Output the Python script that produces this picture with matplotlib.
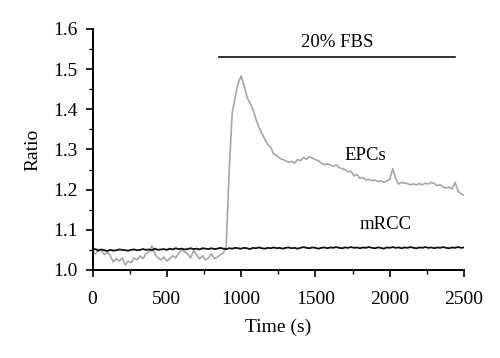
import matplotlib
matplotlib.use("Agg")
import matplotlib.pyplot as plt
from matplotlib.ticker import MultipleLocator, FormatStrFormatter

plt.rcParams.update({
    "font.family": "serif",
    "font.serif": ["Liberation Serif", "DejaVu Serif"],
    "font.size": 14,
})

GREY = "#a6a6a6"
INK = "#111111"

# sample times (s)
time_s = [
    0, 20, 40, 60, 80, 100, 120, 140, 160, 180,
    200, 220, 240, 260, 280, 300, 320, 340, 360, 380,
    400, 420, 440, 460, 480, 500, 520, 540, 560, 580,
    600, 620, 640, 660, 680, 700, 720, 740, 760, 780,
    800, 820, 840, 860, 880, 900, 920, 940, 960, 980,
    1000, 1020, 1040, 1060, 1080, 1100, 1120, 1140, 1160, 1180,
    1200, 1220, 1240, 1260, 1280, 1300, 1320, 1340, 1360, 1380,
    1400, 1420, 1440, 1460, 1480, 1500, 1520, 1540, 1560, 1580,
    1600, 1620, 1640, 1660, 1680, 1700, 1720, 1740, 1760, 1780,
    1800, 1820, 1840, 1860, 1880, 1900, 1920, 1940, 1960, 1980,
    2000, 2020, 2040, 2060, 2080, 2100, 2120, 2140, 2160, 2180,
    2200, 2220, 2240, 2260, 2280, 2300, 2320, 2340, 2360, 2380,
    2400, 2420, 2440, 2460, 2480, 2500,
]

epcs = [
    1.045, 1.040, 1.052, 1.048, 1.038, 1.044, 1.035, 1.020, 1.028, 1.022,
    1.030, 1.012, 1.022, 1.018, 1.030, 1.025, 1.035, 1.028, 1.040, 1.045,
    1.060, 1.040, 1.030, 1.025, 1.032, 1.022, 1.028, 1.035, 1.030, 1.042,
    1.050, 1.045, 1.040, 1.030, 1.048, 1.038, 1.028, 1.035, 1.025, 1.030,
    1.040, 1.028, 1.032, 1.038, 1.042, 1.060, 1.250, 1.390, 1.430, 1.465,
    1.483, 1.460, 1.430, 1.415, 1.400, 1.375, 1.355, 1.340, 1.325, 1.312,
    1.305, 1.288, 1.285, 1.278, 1.275, 1.272, 1.268, 1.270, 1.266, 1.275,
    1.272, 1.280, 1.276, 1.282, 1.278, 1.275, 1.272, 1.266, 1.262, 1.264,
    1.262, 1.258, 1.262, 1.255, 1.252, 1.250, 1.244, 1.246, 1.234, 1.238,
    1.228, 1.230, 1.224, 1.226, 1.222, 1.224, 1.220, 1.222, 1.218, 1.222,
    1.225, 1.252, 1.228, 1.214, 1.218, 1.216, 1.215, 1.212, 1.214, 1.212,
    1.215, 1.212, 1.216, 1.214, 1.218, 1.215, 1.210, 1.212, 1.206, 1.204,
    1.206, 1.202, 1.218, 1.196, 1.190, 1.186,
]

mrcc = [
    1.050, 1.052, 1.048, 1.051, 1.049, 1.047, 1.050, 1.048, 1.049, 1.051,
    1.050, 1.049, 1.048, 1.050, 1.051, 1.049, 1.050, 1.052, 1.050, 1.051,
    1.049, 1.053, 1.050, 1.051, 1.052, 1.050, 1.053, 1.051, 1.054, 1.052,
    1.053, 1.051, 1.052, 1.054, 1.052, 1.053, 1.051, 1.054, 1.053, 1.052,
    1.054, 1.052, 1.053, 1.055, 1.053, 1.052, 1.054, 1.053, 1.055, 1.054,
    1.053, 1.055, 1.054, 1.052, 1.055, 1.054, 1.056, 1.054, 1.053, 1.055,
    1.054, 1.056, 1.054, 1.055, 1.053, 1.055, 1.056, 1.054, 1.055, 1.053,
    1.055, 1.057, 1.055, 1.054, 1.056, 1.055, 1.053, 1.055, 1.056, 1.054,
    1.056, 1.055, 1.057, 1.055, 1.054, 1.056, 1.055, 1.057, 1.055, 1.056,
    1.054, 1.056, 1.055, 1.057, 1.055, 1.054, 1.056, 1.055, 1.053, 1.056,
    1.055, 1.057, 1.055, 1.056, 1.054, 1.056, 1.055, 1.057, 1.055, 1.054,
    1.056, 1.055, 1.057, 1.055, 1.056, 1.054, 1.056, 1.055, 1.057, 1.055,
    1.054, 1.056, 1.055, 1.057, 1.055, 1.056,
]

fbs_span = [850, 2440]   # 20% FBS treatment period (s)
fbs_level = 1.53

fig = plt.figure(figsize=(5.0, 3.58), dpi=100)
ax = fig.add_axes([0.185, 0.246, 0.743, 0.673])

ax.plot(time_s, epcs, color=GREY, lw=1.2)
ax.plot(time_s, mrcc, color=INK, lw=1.3)

ax.plot(fbs_span, [fbs_level, fbs_level], color=INK, lw=1.2, clip_on=False)
ax.text(1649, 1.566, "20% FBS", ha="center", va="center", fontsize=13.5)
ax.text(1836, 1.286, "EPCs", ha="center", va="center", fontsize=13.5)
ax.text(1972, 1.112, "mRCC", ha="center", va="center", fontsize=13.5)

ax.set_xlim(0, 2500)
ax.set_ylim(1.0, 1.6)
ax.xaxis.set_major_locator(MultipleLocator(500))
ax.xaxis.set_minor_locator(MultipleLocator(250))
ax.yaxis.set_major_locator(MultipleLocator(0.1))
ax.yaxis.set_minor_locator(MultipleLocator(0.05))
ax.yaxis.set_major_formatter(FormatStrFormatter("%.1f"))

for s in ("top", "right"):
    ax.spines[s].set_visible(False)
for s in ("left", "bottom"):
    ax.spines[s].set_linewidth(1.4)
ax.tick_params(which="major", direction="out", length=5, width=1.2)
ax.tick_params(which="minor", direction="out", length=3, width=1.0)
ax.tick_params(axis="y", which="major", pad=6)
ax.tick_params(axis="x", which="major", pad=10)

ax.set_xlabel("Time (s)", labelpad=8)
ax.set_ylabel("Ratio", labelpad=8)

fig.savefig("out.png", dpi=100)
